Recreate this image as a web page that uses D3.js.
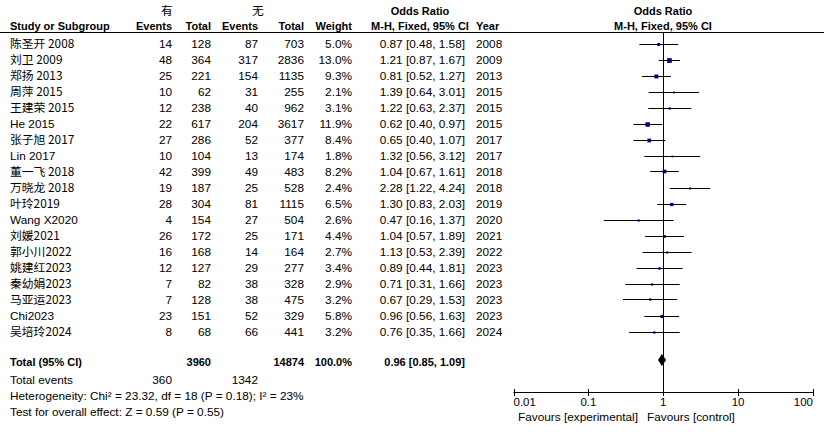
<!DOCTYPE html>
<html><head><meta charset="utf-8">
<script src="https://cdn.jsdelivr.net/npm/d3@7"></script>
<style>
html,body{margin:0;padding:0;background:#fff;}
svg text{font-family:"Liberation Sans",Arial,sans-serif;font-size:11.8px;fill:#000;}
svg text.b{font-weight:bold;font-size:11px;}
svg text.tk{font-size:11.5px;}
.cjk{font-family:"Noto Sans CJK SC","Liberation Sans",sans-serif;}
</style></head>
<body>
<svg id="c" width="824" height="432"></svg>
<script>
const studies = ["陈圣开 2008","刘卫 2009","郑扬 2013","周萍 2015","王建荣 2015","He 2015","张子旭 2017","Lin 2017","董一飞 2018","万晓龙 2018","叶玲2019","Wang X2020","刘媛2021","郭小川2022","姚建红2023","秦幼娟2023","马亚运2023","Chi2023","吴培玲2024"];
const expEvents = [14,48,25,10,12,22,27,10,42,19,28,4,26,16,12,7,7,23,8];
const expTotal = [128,364,221,62,238,617,286,104,399,187,304,154,172,168,127,82,128,151,68];
const ctrlEvents = [87,317,154,31,40,204,52,13,49,25,81,27,25,14,29,38,38,52,66];
const ctrlTotal = [703,2836,1135,255,962,3617,377,174,483,528,1115,504,171,164,277,328,475,329,441];
const weights = [5.0,13.0,9.3,2.1,3.1,11.9,8.4,1.8,8.2,2.4,6.5,2.6,4.4,2.7,3.4,2.9,3.2,5.8,3.2];
const orVal = [0.87,1.21,0.81,1.39,1.22,0.62,0.65,1.32,1.04,2.28,1.30,0.47,1.04,1.13,0.89,0.71,0.67,0.96,0.76];
const ciLo = [0.48,0.87,0.52,0.64,0.63,0.40,0.40,0.56,0.67,1.22,0.83,0.16,0.57,0.53,0.44,0.31,0.29,0.56,0.35];
const ciHi = [1.58,1.67,1.27,3.01,2.37,0.97,1.07,3.12,1.61,4.24,2.03,1.37,1.89,2.39,1.81,1.66,1.53,1.63,1.66];
const years = [2008,2009,2013,2015,2015,2015,2017,2017,2018,2018,2019,2020,2021,2022,2023,2023,2023,2023,2024];
const total = {expTotal:3960, ctrlTotal:14874, weight:"100.0%", or:0.96, lo:0.85, hi:1.09, expEvents:360, ctrlEvents:1342};
const axisTicks = [0.01,0.1,1,10,100];
const tickLabels = ["0.01","0.1","1","10","100"];

const svg = d3.select("#c");
const x = d3.scaleLog().domain([0.01,100]).range([513.5,813]);
const yRow = d3.scaleLinear().domain([0,18]).range([43.5,331.5]);
const f2 = d3.format(".2f");
const fw = d3.format(".1f");

function txt(xp, yp, s, anchor, cls){
  return svg.append("text").attr("x",xp).attr("y",yp+4).attr("text-anchor",anchor||"start").attr("class",cls||"").text(s);
}
// headers
txt(167,11,"有","middle","cjk");
txt(258,11,"无","middle","cjk");
txt(420,11,"Odds Ratio","middle","b");
txt(663,11,"Odds Ratio","middle","b");
txt(10,26,"Study or Subgroup","start","b");
txt(172,26,"Events","end","b");
txt(211,26,"Total","end","b");
txt(258,26,"Events","end","b");
txt(304,26,"Total","end","b");
txt(352,26,"Weight","end","b");
txt(420,26,"M-H, Fixed, 95% CI","middle","b");
txt(476,26,"Year","start","b");
txt(663,26,"M-H, Fixed, 95% CI","middle","b");
svg.append("line").attr("x1",0).attr("x2",824).attr("y1",32.5).attr("y2",32.5).attr("stroke","#000").attr("stroke-width",1);

// rows
studies.forEach((s,i)=>{
  const y = yRow(i);
  txt(10,y,s,"start",/[\u4e00-\u9fff]/.test(s)?"cjk":"");
  txt(172,y,expEvents[i],"end");
  txt(211,y,expTotal[i],"end");
  txt(258,y,ctrlEvents[i],"end");
  txt(304,y,ctrlTotal[i],"end");
  txt(352,y,fw(weights[i])+"%","end");
  txt(465,y,`${f2(orVal[i])} [${f2(ciLo[i])}, ${f2(ciHi[i])}]`,"end");
  txt(476,y,years[i],"start");
});

// vertical line at 1
svg.append("line").attr("x1",Math.round(x(1))+0.5).attr("x2",Math.round(x(1))+0.5).attr("y1",32).attr("y2",392).attr("stroke","#000");

// CI lines and squares
const g = svg.append("g");
g.selectAll("line.ci").data(studies).join("line").attr("class","ci")
  .attr("x1",(d,i)=>x(ciLo[i])).attr("x2",(d,i)=>x(ciHi[i]))
  .attr("y1",(d,i)=>Math.round(yRow(i))+0.5).attr("y2",(d,i)=>Math.round(yRow(i))+0.5)
  .attr("stroke","#000").attr("stroke-width",1);
const side = w => 1.3*Math.sqrt(w);
g.selectAll("rect.sq").data(studies).join("rect").attr("class","sq")
  .attr("x",(d,i)=>x(orVal[i])-side(weights[i])/2)
  .attr("y",(d,i)=>Math.round(yRow(i))+0.5-side(weights[i])/2)
  .attr("width",(d,i)=>side(weights[i])).attr("height",(d,i)=>side(weights[i]))
  .attr("fill","#000080");

// total
const yT = 361.5;
txt(10,yT,"Total (95% CI)","start","b");
txt(211,yT,total.expTotal,"end","b");
txt(304,yT,total.ctrlTotal,"end","b");
txt(352,yT,total.weight,"end","b");
txt(465,yT,`${f2(total.or)} [${f2(total.lo)}, ${f2(total.hi)}]`,"end","b");
const yd = 360;
svg.append("path").attr("d",`M${x(total.lo)},${yd} L${x(total.or)},${yd-6} L${x(total.hi)},${yd} L${x(total.or)},${yd+6} Z`).attr("fill","#000");

txt(10,380,"Total events","start");
txt(172,380,total.expEvents,"end");
txt(258,380,total.ctrlEvents,"end");
txt(10,396,"Heterogeneity: Chi² = 23.32, df = 18 (P = 0.18); I² = 23%","start");
txt(10,412,"Test for overall effect: Z = 0.59 (P = 0.55)","start");

// axis
const ax = svg.append("g").attr("transform","translate(0,392.5)");
ax.append("line").attr("x1",x(0.01)).attr("x2",x(100)).attr("stroke","#000");
ax.selectAll("line.t").data(axisTicks).join("line").attr("class","t")
  .attr("x1",d=>Math.round(x(d))+0.5).attr("x2",d=>Math.round(x(d))+0.5).attr("y1",-3.5).attr("y2",3.5).attr("stroke","#000");
ax.selectAll("text").data(axisTicks).join("text").attr("class","tk")
  .attr("x",d=>x(d)).attr("y",13.5).attr("text-anchor",(d,i)=>i===0?"start":(i===axisTicks.length-1?"end":"middle"))
  .text((d,i)=>tickLabels[i]);
txt(638,417,"Favours [experimental]","end");
txt(647,417,"Favours [control]","start");
</script>
</body></html>
